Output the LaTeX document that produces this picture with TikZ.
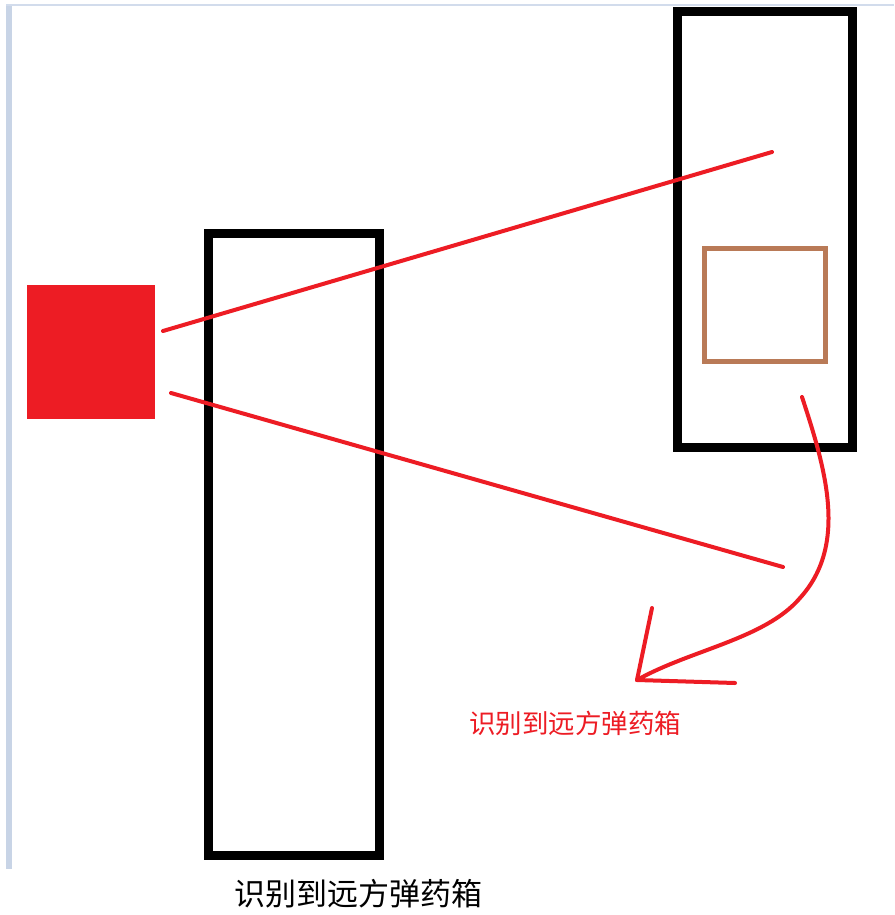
\documentclass[tikz,border=0pt]{standalone}
\usepackage{fontspec}
\newfontfamily\cjk{Noto Sans CJK SC}
\definecolor{pred}{RGB}{237,28,36}
\definecolor{pbrown}{RGB}{185,122,87}
\definecolor{edgeblue}{RGB}{200,212,230}
\definecolor{edgeblue2}{RGB}{210,220,236}
\tikzset{
  wall/.style={draw=black, line width=9pt, fill=none, inner sep=0pt},
  crate/.style={draw=pbrown, line width=5pt, inner sep=0pt},
  ray/.style={draw=pred, line width=4pt, line cap=round, line join=round},
}
\begin{document}
\begin{tikzpicture}[x=1pt,y=-1pt]
\useasboundingbox (0,0) rectangle (894,915);
\fill[white] (0,0) rectangle (894,915);
% window edges
\fill[edgeblue] (6,4) rectangle (11.5,869);
\fill[edgeblue2] (6,4) rectangle (894,6);
% red square
\node[fill=pred, inner sep=0pt, minimum width=128pt, minimum height=134pt] (src) at (91,352) {};
% left wall
\node[wall, minimum width=171pt, minimum height=622pt] (wallL) at (293.5,544.5) {};
% right wall
\node[wall, minimum width=174.5pt, minimum height=435.5pt] (wallR) at (764.75,229.25) {};
% crate
\node[crate, minimum width=120.5pt, minimum height=113pt] (box) at (764.75,304.5) {};
% rays
\coordinate (r1s) at (163,331);
\coordinate (r1e) at (772,152);
\coordinate (r2s) at (171,393);
\coordinate (r2e) at (783,567);
\draw[ray] (r1s) -- (r1e);
\draw[ray] (r2s) -- (r2e);
% curved arrow
\coordinate (cs) at (802,397);
\coordinate (cm) at (800,598);
\coordinate (tip) at (637,680);
\coordinate (h1) at (652,608);
\coordinate (h2) at (735,683);
\draw[ray] (cs) .. controls (826,470) and (848,545) .. (cm)
                .. controls (765,639) and (690,650) .. (tip);
\draw[ray] (tip) -- (h1);
\draw[ray] (tip) -- (h2);
% labels
\node[text=pred, font=\cjk\fontsize{26.5}{30}\selectfont, inner sep=0pt] (lab1) at (575,723.5) {识别到远方弹药箱};
\node[text=black, font=\cjk\fontsize{31}{36}\selectfont, inner sep=0pt] (lab2) at (358.5,893.5) {识别到远方弹药箱};
\end{tikzpicture}
\end{document}
